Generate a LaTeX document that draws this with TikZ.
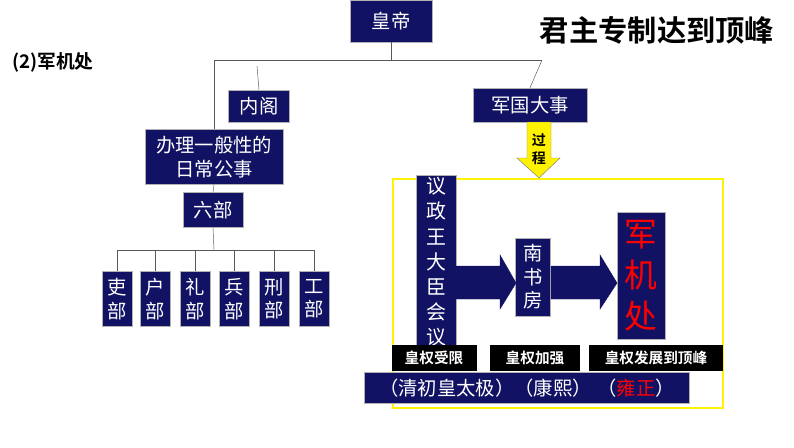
\documentclass[tikz,border=0pt]{standalone}
\usepackage{fontspec}
\setmainfont{Noto Sans CJK SC}
\newfontfamily\cjkb{Noto Sans CJK SC}[BoldFont={* Bold}]
\usetikzlibrary{shapes,arrows,positioning,calc}
\definecolor{navy}{RGB}{18,18,100}
\tikzset{
    box/.style={fill=navy, draw=gray!60, text=white, inner sep=1pt, font=\fontsize{16.5}{19}\selectfont},
    vbox/.style={box, align=center, font=\fontsize{16.5}{20}\selectfont},
    tag/.style={fill=black, text=white, inner sep=0pt, font=\cjkb\bfseries\fontsize{12.5}{14}\selectfont},
    tree/.style={gray!70!black, thin},
    fat/.style={fill=navy, draw=navy},
}
\begin{document}
\begin{tikzpicture}[x=0.03cm, y=-0.03cm]
    \useasboundingbox (0,0) rectangle (794,447);
    % title
    \node[font=\cjkb\bfseries\fontsize{25}{28}\selectfont] (title) at (657,30) {君主专制达到顶峰};
    \node[font=\cjkb\bfseries\fontsize{16}{18}\selectfont, anchor=west] (sub) at (8,62) {(2)军机处};

    % tree
    \node[box, text width=2.4cm, align=center, minimum height=1.26cm] (emp) at (391,21) {皇帝};
    \node[box, minimum width=1.83cm, minimum height=0.96cm] (neige) at (259,106) {内阁};
    \node[box, minimum width=3.42cm, minimum height=1.02cm] (jun) at (530,105) {军国大事};
    \node[vbox, minimum width=4.14cm, minimum height=1.65cm] (daily) at (214,157) {办理一般性的\\日常公事};
    \node[box, minimum width=1.8cm, minimum height=1.05cm] (liubu) at (213,210) {六部};
    \coordinate (top) at (391,60);
    \draw[tree] (emp.south) -- (top);
    \draw[tree] (214,60) -- (542,60);
    \draw[tree] (214,60) -- (daily.north);
    \draw[tree] (257,66) -- (neige.north);
    \draw[tree] (542,60) -- (jun.north);
    \draw[tree] (daily.south) -- (liubu.north);
    \draw[tree] (liubu.south) -- (214,250);
    \draw[tree] (117,250) -- (314,250);
    \foreach \n/\x/\a in {li/117/吏, hu/155/户, lii/195/礼, bing/234/兵, xing/274/刑, gong/314/工}{
        \node[vbox, minimum width=0.9cm, minimum height=1.65cm] (\n) at (\x,299) {\a\\部};
        \draw[tree] (\x,250) -- (\n.north);
    }

    % process arrow
    \fill[yellow, draw=gray] (527,122) -- (551,122) -- (551,158) -- (560,158) -- (539,178) -- (517,158) -- (527,158) -- cycle;
    \node[font=\cjkb\bfseries\fontsize{12}{15}\selectfont, align=center] (guo) at (539,149) {过\\程};

    % yellow frame
    \draw[yellow, line width=1.5pt] (393,179) rectangle (723,408);

    % evolution
    \node[vbox, minimum width=1.2cm, minimum height=5.2cm, font=\fontsize{17}{21.5}\selectfont] (yizheng) at (436,262) {议\\政\\王\\大\\臣\\会\\议};
    \node[vbox, minimum width=1.05cm, minimum height=2.35cm] (nanshu) at (533,277) {南\\书\\房};
    \node[vbox, minimum width=1.45cm, minimum height=3.8cm, text=red, font=\fontsize{28}{35}\selectfont] (jjc) at (641,276) {军\\机\\处};
    \fill[fat] (456,266) -- (500,266) -- (500,255) -- (516,283) -- (500,309) -- (500,299) -- (456,299) -- cycle;
    \fill[fat] (551,266) -- (600,266) -- (600,255) -- (617,283) -- (600,309) -- (600,299) -- (551,299) -- cycle;

    \node[tag, minimum width=2.55cm, minimum height=0.8cm] (t1) at (434,358) {皇权受限};
    \node[tag, minimum width=2.7cm, minimum height=0.8cm] (t2) at (535,358) {皇权加强};
    \node[tag, minimum width=4cm, minimum height=0.8cm] (t3) at (656,358) {皇权发展到顶峰};

    \node[box, minimum width=9.75cm, minimum height=0.93cm] (era) at (527,388) {（清初皇太极）（康熙）\hspace{0.3em}（\textcolor{red}{雍正}）};
\end{tikzpicture}
\end{document}
